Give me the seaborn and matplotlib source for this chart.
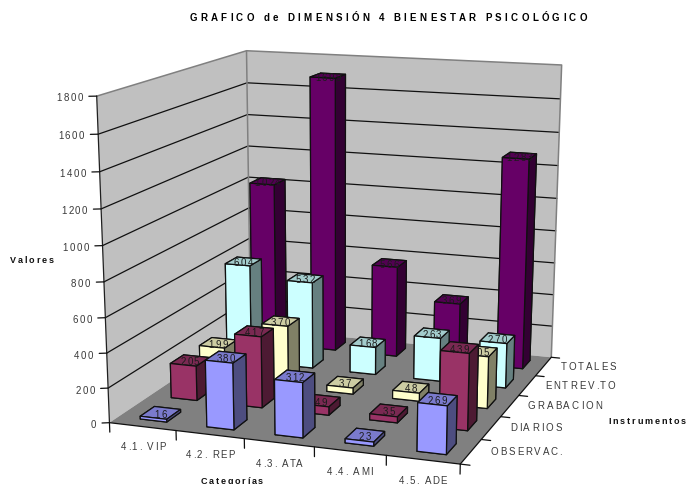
import numpy as np
import pandas as pd
import seaborn as sns
import matplotlib
matplotlib.use("Agg")
import matplotlib.pyplot as plt
import matplotlib.text as mtext
from matplotlib.transforms import Bbox
from mpl_toolkits.mplot3d import art3d, proj3d

# Survey counts per category and instrument
categories = ["4.1. VIP", "4.2. REP", "4.3. ATA", "4.4. AMI", "4.5. ADE"]
instruments = ["OBSERVAC.", "DIARIOS", "GRABACION", "ENTREV.TO", "TOTALES"]
observac = [16, 380, 312, 23, 269]
diarios = [205, 417, 49, 35, 439]
grabacion = [199, 370, 37, 48, 305]
entrevista = [604, 532, 168, 263, 270]
totales = [1024, 1699, 566, 369, 1283]
value_ticks = [0, 200, 400, 600, 800, 1000, 1200, 1400, 1600, 1800]
series_colors = ["#9999FF", "#993366", "#FFFFCC", "#CCFFFF", "#660066"]

sns.set_theme(style="white", rc={"axes.grid": False})
plt.rcParams["font.family"] = ["Liberation Sans", "DejaVu Sans"]
palette = sns.color_palette(series_colors)

table = pd.DataFrame(
    {"OBSERVAC.": observac, "DIARIOS": diarios, "GRABACION": grabacion,
     "ENTREV.TO": entrevista, "TOTALES": totales},
    index=categories,
)

W_PX, H_PX = 688, 485
ZMAX = value_ticks[-1]
BAR_W, BAR_D = 0.40, 0.45
BAR_DX, BAR_DY = 0.33, 0.28


class TrackedText(mtext.Text):
    """Text drawn glyph by glyph with extra letter spacing."""

    def __init__(self, x, y, text, tracking=0.0, **kw):
        super().__init__(x, y, text, **kw)
        self.tracking = tracking

    def _layout(self, renderer):
        s = self.get_text()
        prop = self.get_fontproperties()
        width = lambda t: renderer.get_text_width_height_descent(t, prop, False)[0]
        bar = width("|")
        offsets = [width(s[:i] + "|") - bar + i * self.tracking for i in range(len(s))]
        total = offsets[-1] + width(s[-1])
        px, py = self.get_transform().transform(self.get_position())
        left = px + {"left": 0.0, "center": -total / 2, "right": -total}[self.get_ha()]
        cap = renderer.get_text_width_height_descent("H", prop, False)[1]
        return offsets, left, py - cap / 2, total, cap

    def draw(self, renderer):
        offsets, left, base, _, _ = self._layout(renderer)
        if renderer.flipy():
            base = renderer.get_canvas_width_height()[1] - base
        gc = renderer.new_gc()
        gc.set_foreground(self.get_color())
        gc.set_antialiased(True)
        for ch, off in zip(self.get_text(), offsets):
            if ch != " ":
                renderer.draw_text(gc, left + off, base, ch, self.get_fontproperties(), 0)
        gc.restore()

    def get_window_extent(self, renderer=None, dpi=None):
        if renderer is None:
            renderer = self.get_figure().canvas.get_renderer()
        _, left, base, total, cap = self._layout(renderer)
        return Bbox.from_bounds(left, base, total, cap)


# Camera: a perspective matrix solved from where the chart box sits on the canvas
box_points = np.array([
    (0, 0, 1800, 96.7, 97.3), (0, 0, 1600, 97.3, 135.7), (0, 0, 200, 108.5, 388.3),
    (0, 0, 0, 110.0, 422.3), (0, 5, 1800, 246.7, 51.7), (0, 5, 1600, 247.3, 83.3),
    (0, 5, 1400, 247.7, 115.7), (0, 5, 1200, 248.0, 146.0), (0, 5, 0, 250.0, 332.0),
    (5, 5, 1800, 561.7, 66.7), (5, 5, 1600, 560.5, 99.3), (5, 5, 1400, 559.0, 134.0),
    (5, 5, 0, 551.0, 356.5), (5, 0, 0, 460.0, 466.0),
    (1, 0, 0, 175.7, 431.0), (2, 0, 0, 244.3, 439.5), (3, 0, 0, 314.0, 448.0),
    (4, 0, 0, 386.7, 457.0), (5, 1, 0, 481.7, 441.3), (5, 2, 0, 500.7, 418.3),
    (5, 3, 0, 519.0, 395.7), (5, 4, 0, 535.7, 376.0),
])


def solve_camera(points):
    rows = []
    for X, Y, Z, u, v in points:
        Z = Z / ZMAX
        u, v = u / 100.0, (H_PX - v) / 100.0
        rows.append([X, Y, Z, 1, 0, 0, 0, 0, -u * X, -u * Y, -u * Z, -u])
        rows.append([0, 0, 0, 0, X, Y, Z, 1, -v * X, -v * Y, -v * Z, -v])
    p = np.linalg.svd(np.array(rows))[2][-1].reshape(3, 4)
    if p[2] @ np.array([2.5, 2.5, 0.5, 1.0]) < 0:
        p = -p
    p[:2] *= 100.0
    p[:, 2] /= ZMAX
    return np.vstack([p[0], p[1], [0, 0, 0, -1.0], p[2]])


camera = solve_camera(box_points)

fig = plt.figure(figsize=(W_PX / 100, H_PX / 100), dpi=100, facecolor="white")
# The 3D axes keep a square panel, so it is centred and overhangs the canvas vertically
extra = (W_PX - H_PX) / 2
ax = fig.add_axes([0, -extra / H_PX, 1, W_PX / H_PX], projection="3d")
ax.set_axis_off()
ax.computed_zorder = False
ax.set_proj_type("ortho")  # turns off the line clipping meant for the default camera
ax.get_proj = lambda: camera
ax.viewLim.intervalx = (0, W_PX)
ax.viewLim.intervaly = (-extra, H_PX + extra)


def label_at(x, y, z, s, tracking, **kw):
    """Place letter-spaced text at a point of the 3D data space."""
    xs, ys, _ = proj3d.proj_transform(x, y, z, camera)
    ax.add_artist(TrackedText(float(xs), float(ys), s, tracking=tracking, clip_on=False, **kw))


# Walls and floor
wall_c, floor_c, frame_c = "#C0C0C0", "#808080", "#808080"
ax.add_collection3d(art3d.Poly3DCollection(
    [[(0, 0, 0), (0, 5, 0), (0, 5, ZMAX), (0, 0, ZMAX)],
     [(0, 5, 0), (5, 5, 0), (5, 5, ZMAX), (0, 5, ZMAX)]],
    facecolors=wall_c, edgecolors="none", zorder=1))
ax.add_collection3d(art3d.Poly3DCollection(
    [[(0, 0, 0), (5, 0, 0), (5, 5, 0), (0, 5, 0)]],
    facecolors=floor_c, edgecolors="none", zorder=1))

for z in value_ticks[1:-1]:
    ax.plot([0, 0, 5], [0, 5, 5], [z, z, z], color="#101010", lw=0.9, zorder=2)
ax.plot([0, 0, 5, 5], [0, 5, 5, 5], [ZMAX, ZMAX, ZMAX, 0], color=frame_c, lw=1.1, zorder=2)
ax.plot([0, 0], [5, 5], [0, ZMAX], color=frame_c, lw=1.1, zorder=2)
ax.plot([0, 0], [0, 0], [0, ZMAX], color="#202020", lw=0.9, zorder=2)
ax.plot([0, 5, 5], [0, 0, 5], [0, 0, 0], color="#101010", lw=0.9, zorder=2)

# Value axis
label_c = "#3a3a3a"
for z in value_ticks:
    ax.plot([-0.09, 0], [-0.045, 0], [z, z], color="#101010", lw=0.9, zorder=2)
    label_at(-0.16, -0.08, z, str(z), 1.6, ha="right", fontsize=7, color=label_c, zorder=3)

# Category axis
for i in range(6):
    ax.plot([i, i], [0, 0], [0, -55], color="#101010", lw=0.9, zorder=2)
for i, name in enumerate(categories):
    label_at(i + 0.5, 0, -107, name, 1.5, ha="center", fontsize=7, color=label_c, zorder=3)

# Instrument axis
for j in range(6):
    ax.plot([5, 5.13], [j, j], [0, 0], color="#101010", lw=0.9, zorder=2)
for j, name in enumerate(instruments):
    label_at(5.26, j + 0.5, 22, name, 2.0, ha="left", fontsize=7, color=label_c, zorder=3)

# Bars, painted from the back row to the front row
order = 10
for j in reversed(range(len(instruments))):
    base = np.array(palette[j])
    side, top = base * 0.5, base * 0.8
    # bar3d face order: bottom, top, front, back, left, right
    faces = [side, top, base, side, side, side]
    for i, cat in enumerate(categories):
        v = table.loc[cat, instruments[j]]
        x0, y0 = i + BAR_DX, j + BAR_DY
        ax.bar3d(x0, y0, 0, BAR_W, BAR_D, v, color=faces, shade=False,
                 edgecolor="#101010", linewidth=0.9, zorder=order)
        label_at(x0 + BAR_W / 2, y0 + BAR_D / 2, v, str(v), 1.4, ha="center", fontsize=7,
                 color="#1c1c1c", zorder=order + 0.5)
        order += 1


def fig_label(x, y, s, tracking, **kw):
    fig.add_artist(TrackedText(x / W_PX, 1 - y / H_PX, s, tracking=tracking, **kw))


fig_label(388, 17, "GRAFICO de DIMENSIÓN 4 BIENESTAR PSICOLÓGICO", 3.35, ha="center",
          fontsize=7, fontweight="bold", color="black")
fig_label(10, 260, "Valores", 1.9, ha="left", fontsize=6.5, fontweight="bold", color="#111111")
fig_label(232, 481, "Categorías", 1.7, ha="center", fontsize=6.5, fontweight="bold", color="#111111")
fig_label(608, 421, "Instrumentos", 1.9, ha="left", fontsize=6.5, fontweight="bold", color="#111111")

fig.savefig("out.png", dpi=100)
